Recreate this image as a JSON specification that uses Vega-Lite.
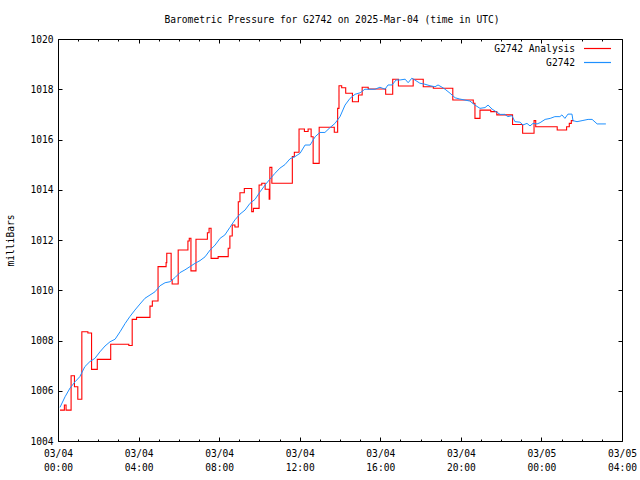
{
  "$schema": "https://vega.github.io/schema/vega-lite/v6.json",
  "width": 564,
  "height": 402,
  "autosize": "none",
  "padding": {"left": 58, "top": 39, "right": 18, "bottom": 39},
  "background": "white",
  "config": {
    "view": {"stroke": "black", "strokeWidth": 1},
    "font": "DejaVu Sans Mono",
    "axis": {"grid": false, "domain": false, "tickColor": "black", "labelColor": "black", "labelFont": "DejaVu Sans Mono", "labelFontSize": 9.6, "titleFont": "DejaVu Sans Mono", "titleFontSize": 9.6, "titleFontWeight": "normal", "titleColor": "black", "labelFlush": false, "labelOverlap": false}
  },
  "title": {"text": "Barometric Pressure for G2742 on 2025-Mar-04 (time in UTC)", "font": "DejaVu Sans Mono", "fontSize": 9.6, "fontWeight": "normal", "color": "black", "anchor": "middle", "offset": 9, "dx": -8},
  "data": {"values": [
    {"s": "G2742 Analysis", "t": "2025-03-04T00:06:00Z", "p": 1005.23},
    {"s": "G2742 Analysis", "t": "2025-03-04T00:19:00Z", "p": 1005.43},
    {"s": "G2742 Analysis", "t": "2025-03-04T00:24:00Z", "p": 1005.23},
    {"s": "G2742 Analysis", "t": "2025-03-04T00:39:00Z", "p": 1006.6},
    {"s": "G2742 Analysis", "t": "2025-03-04T00:49:00Z", "p": 1006.16},
    {"s": "G2742 Analysis", "t": "2025-03-04T00:59:00Z", "p": 1005.66},
    {"s": "G2742 Analysis", "t": "2025-03-04T01:11:00Z", "p": 1008.35},
    {"s": "G2742 Analysis", "t": "2025-03-04T01:29:00Z", "p": 1008.3},
    {"s": "G2742 Analysis", "t": "2025-03-04T01:40:00Z", "p": 1006.85},
    {"s": "G2742 Analysis", "t": "2025-03-04T01:57:00Z", "p": 1007.25},
    {"s": "G2742 Analysis", "t": "2025-03-04T02:37:00Z", "p": 1007.85},
    {"s": "G2742 Analysis", "t": "2025-03-04T03:31:00Z", "p": 1007.8},
    {"s": "G2742 Analysis", "t": "2025-03-04T03:41:00Z", "p": 1008.84},
    {"s": "G2742 Analysis", "t": "2025-03-04T03:54:00Z", "p": 1008.92},
    {"s": "G2742 Analysis", "t": "2025-03-04T04:34:00Z", "p": 1009.37},
    {"s": "G2742 Analysis", "t": "2025-03-04T04:41:00Z", "p": 1009.57},
    {"s": "G2742 Analysis", "t": "2025-03-04T04:58:00Z", "p": 1010.94},
    {"s": "G2742 Analysis", "t": "2025-03-04T05:22:00Z", "p": 1011.1},
    {"s": "G2742 Analysis", "t": "2025-03-04T05:24:00Z", "p": 1011.47},
    {"s": "G2742 Analysis", "t": "2025-03-04T05:37:00Z", "p": 1010.41},
    {"s": "G2742 Analysis", "t": "2025-03-04T05:40:00Z", "p": 1010.25},
    {"s": "G2742 Analysis", "t": "2025-03-04T05:58:00Z", "p": 1011.6},
    {"s": "G2742 Analysis", "t": "2025-03-04T06:27:00Z", "p": 1011.96},
    {"s": "G2742 Analysis", "t": "2025-03-04T06:31:00Z", "p": 1012.07},
    {"s": "G2742 Analysis", "t": "2025-03-04T06:36:00Z", "p": 1010.77},
    {"s": "G2742 Analysis", "t": "2025-03-04T06:51:00Z", "p": 1012.03},
    {"s": "G2742 Analysis", "t": "2025-03-04T07:25:00Z", "p": 1012.29},
    {"s": "G2742 Analysis", "t": "2025-03-04T07:30:00Z", "p": 1012.47},
    {"s": "G2742 Analysis", "t": "2025-03-04T07:36:00Z", "p": 1011.27},
    {"s": "G2742 Analysis", "t": "2025-03-04T07:57:00Z", "p": 1011.34},
    {"s": "G2742 Analysis", "t": "2025-03-04T08:27:00Z", "p": 1011.67},
    {"s": "G2742 Analysis", "t": "2025-03-04T08:32:00Z", "p": 1012.16},
    {"s": "G2742 Analysis", "t": "2025-03-04T08:39:00Z", "p": 1012.6},
    {"s": "G2742 Analysis", "t": "2025-03-04T08:47:00Z", "p": 1012.52},
    {"s": "G2742 Analysis", "t": "2025-03-04T08:57:00Z", "p": 1013.52},
    {"s": "G2742 Analysis", "t": "2025-03-04T09:02:00Z", "p": 1013.88},
    {"s": "G2742 Analysis", "t": "2025-03-04T09:15:00Z", "p": 1014.05},
    {"s": "G2742 Analysis", "t": "2025-03-04T09:37:00Z", "p": 1013.13},
    {"s": "G2742 Analysis", "t": "2025-03-04T09:42:00Z", "p": 1013.26},
    {"s": "G2742 Analysis", "t": "2025-03-04T09:59:00Z", "p": 1014.19},
    {"s": "G2742 Analysis", "t": "2025-03-04T10:07:00Z", "p": 1014.26},
    {"s": "G2742 Analysis", "t": "2025-03-04T10:17:00Z", "p": 1014.02},
    {"s": "G2742 Analysis", "t": "2025-03-04T10:29:00Z", "p": 1013.62},
    {"s": "G2742 Analysis", "t": "2025-03-04T10:31:00Z", "p": 1014.89},
    {"s": "G2742 Analysis", "t": "2025-03-04T10:37:00Z", "p": 1014.26},
    {"s": "G2742 Analysis", "t": "2025-03-04T11:38:00Z", "p": 1015.32},
    {"s": "G2742 Analysis", "t": "2025-03-04T11:44:00Z", "p": 1015.49},
    {"s": "G2742 Analysis", "t": "2025-03-04T11:58:00Z", "p": 1016.42},
    {"s": "G2742 Analysis", "t": "2025-03-04T12:14:00Z", "p": 1016.32},
    {"s": "G2742 Analysis", "t": "2025-03-04T12:25:00Z", "p": 1016.42},
    {"s": "G2742 Analysis", "t": "2025-03-04T12:34:00Z", "p": 1016.11},
    {"s": "G2742 Analysis", "t": "2025-03-04T12:40:00Z", "p": 1015.05},
    {"s": "G2742 Analysis", "t": "2025-03-04T12:58:00Z", "p": 1016.49},
    {"s": "G2742 Analysis", "t": "2025-03-04T13:43:00Z", "p": 1016.29},
    {"s": "G2742 Analysis", "t": "2025-03-04T13:53:00Z", "p": 1017.24},
    {"s": "G2742 Analysis", "t": "2025-03-04T13:57:00Z", "p": 1018.14},
    {"s": "G2742 Analysis", "t": "2025-03-04T14:05:00Z", "p": 1018.06},
    {"s": "G2742 Analysis", "t": "2025-03-04T14:17:00Z", "p": 1017.84},
    {"s": "G2742 Analysis", "t": "2025-03-04T14:37:00Z", "p": 1017.5},
    {"s": "G2742 Analysis", "t": "2025-03-04T14:55:00Z", "p": 1017.77},
    {"s": "G2742 Analysis", "t": "2025-03-04T15:06:00Z", "p": 1018.08},
    {"s": "G2742 Analysis", "t": "2025-03-04T15:24:00Z", "p": 1018.01},
    {"s": "G2742 Analysis", "t": "2025-03-04T16:16:00Z", "p": 1017.8},
    {"s": "G2742 Analysis", "t": "2025-03-04T16:37:00Z", "p": 1018.4},
    {"s": "G2742 Analysis", "t": "2025-03-04T16:54:00Z", "p": 1018.13},
    {"s": "G2742 Analysis", "t": "2025-03-04T17:38:00Z", "p": 1018.4},
    {"s": "G2742 Analysis", "t": "2025-03-04T18:08:00Z", "p": 1018.1},
    {"s": "G2742 Analysis", "t": "2025-03-04T18:38:00Z", "p": 1018.04},
    {"s": "G2742 Analysis", "t": "2025-03-04T19:36:00Z", "p": 1017.57},
    {"s": "G2742 Analysis", "t": "2025-03-04T20:37:00Z", "p": 1017.44},
    {"s": "G2742 Analysis", "t": "2025-03-04T20:42:00Z", "p": 1016.84},
    {"s": "G2742 Analysis", "t": "2025-03-04T20:57:00Z", "p": 1017.17},
    {"s": "G2742 Analysis", "t": "2025-03-04T21:29:00Z", "p": 1017.11},
    {"s": "G2742 Analysis", "t": "2025-03-04T21:47:00Z", "p": 1016.98},
    {"s": "G2742 Analysis", "t": "2025-03-04T22:34:00Z", "p": 1016.6},
    {"s": "G2742 Analysis", "t": "2025-03-04T23:04:00Z", "p": 1016.25},
    {"s": "G2742 Analysis", "t": "2025-03-04T23:38:00Z", "p": 1016.75},
    {"s": "G2742 Analysis", "t": "2025-03-04T23:43:00Z", "p": 1016.51},
    {"s": "G2742 Analysis", "t": "2025-03-05T00:47:00Z", "p": 1016.38},
    {"s": "G2742 Analysis", "t": "2025-03-05T01:15:00Z", "p": 1016.51},
    {"s": "G2742 Analysis", "t": "2025-03-05T01:23:00Z", "p": 1016.64},
    {"s": "G2742 Analysis", "t": "2025-03-05T01:29:00Z", "p": 1016.75},
    {"s": "G2742 Analysis", "t": "2025-03-05T01:34:00Z", "p": 1016.78},
    {"s": "G2742", "t": "2025-03-04T00:06:00Z", "p": 1005.34},
    {"s": "G2742", "t": "2025-03-04T00:21:00Z", "p": 1005.76},
    {"s": "G2742", "t": "2025-03-04T00:36:00Z", "p": 1006.11},
    {"s": "G2742", "t": "2025-03-04T00:51:00Z", "p": 1006.36},
    {"s": "G2742", "t": "2025-03-04T01:05:00Z", "p": 1006.56},
    {"s": "G2742", "t": "2025-03-04T01:20:00Z", "p": 1006.96},
    {"s": "G2742", "t": "2025-03-04T01:35:00Z", "p": 1007.16},
    {"s": "G2742", "t": "2025-03-04T01:50:00Z", "p": 1007.29},
    {"s": "G2742", "t": "2025-03-04T02:05:00Z", "p": 1007.55},
    {"s": "G2742", "t": "2025-03-04T02:20:00Z", "p": 1007.78},
    {"s": "G2742", "t": "2025-03-04T02:35:00Z", "p": 1007.95},
    {"s": "G2742", "t": "2025-03-04T02:50:00Z", "p": 1008.05},
    {"s": "G2742", "t": "2025-03-04T03:05:00Z", "p": 1008.35},
    {"s": "G2742", "t": "2025-03-04T03:20:00Z", "p": 1008.68},
    {"s": "G2742", "t": "2025-03-04T03:34:00Z", "p": 1008.95},
    {"s": "G2742", "t": "2025-03-04T03:49:00Z", "p": 1009.21},
    {"s": "G2742", "t": "2025-03-04T04:04:00Z", "p": 1009.45},
    {"s": "G2742", "t": "2025-03-04T04:19:00Z", "p": 1009.68},
    {"s": "G2742", "t": "2025-03-04T04:34:00Z", "p": 1009.81},
    {"s": "G2742", "t": "2025-03-04T04:49:00Z", "p": 1009.94},
    {"s": "G2742", "t": "2025-03-04T05:04:00Z", "p": 1010.18},
    {"s": "G2742", "t": "2025-03-04T05:19:00Z", "p": 1010.3},
    {"s": "G2742", "t": "2025-03-04T05:34:00Z", "p": 1010.34},
    {"s": "G2742", "t": "2025-03-04T05:49:00Z", "p": 1010.51},
    {"s": "G2742", "t": "2025-03-04T06:03:00Z", "p": 1010.7},
    {"s": "G2742", "t": "2025-03-04T06:18:00Z", "p": 1010.81},
    {"s": "G2742", "t": "2025-03-04T06:33:00Z", "p": 1010.94},
    {"s": "G2742", "t": "2025-03-04T06:48:00Z", "p": 1011.07},
    {"s": "G2742", "t": "2025-03-04T07:03:00Z", "p": 1011.18},
    {"s": "G2742", "t": "2025-03-04T07:18:00Z", "p": 1011.33},
    {"s": "G2742", "t": "2025-03-04T07:33:00Z", "p": 1011.6},
    {"s": "G2742", "t": "2025-03-04T07:48:00Z", "p": 1011.8},
    {"s": "G2742", "t": "2025-03-04T08:03:00Z", "p": 1012.07},
    {"s": "G2742", "t": "2025-03-04T08:17:00Z", "p": 1012.2},
    {"s": "G2742", "t": "2025-03-04T08:32:00Z", "p": 1012.5},
    {"s": "G2742", "t": "2025-03-04T08:47:00Z", "p": 1012.8},
    {"s": "G2742", "t": "2025-03-04T09:02:00Z", "p": 1013.03},
    {"s": "G2742", "t": "2025-03-04T09:17:00Z", "p": 1013.19},
    {"s": "G2742", "t": "2025-03-04T09:32:00Z", "p": 1013.46},
    {"s": "G2742", "t": "2025-03-04T09:47:00Z", "p": 1013.62},
    {"s": "G2742", "t": "2025-03-04T10:02:00Z", "p": 1013.92},
    {"s": "G2742", "t": "2025-03-04T10:17:00Z", "p": 1014.19},
    {"s": "G2742", "t": "2025-03-04T10:31:00Z", "p": 1014.42},
    {"s": "G2742", "t": "2025-03-04T10:46:00Z", "p": 1014.65},
    {"s": "G2742", "t": "2025-03-04T11:01:00Z", "p": 1014.86},
    {"s": "G2742", "t": "2025-03-04T11:16:00Z", "p": 1015.0},
    {"s": "G2742", "t": "2025-03-04T11:31:00Z", "p": 1015.23},
    {"s": "G2742", "t": "2025-03-04T11:46:00Z", "p": 1015.32},
    {"s": "G2742", "t": "2025-03-04T12:01:00Z", "p": 1015.45},
    {"s": "G2742", "t": "2025-03-04T12:16:00Z", "p": 1015.78},
    {"s": "G2742", "t": "2025-03-04T12:31:00Z", "p": 1015.78},
    {"s": "G2742", "t": "2025-03-04T12:46:00Z", "p": 1016.11},
    {"s": "G2742", "t": "2025-03-04T13:00:00Z", "p": 1016.28},
    {"s": "G2742", "t": "2025-03-04T13:15:00Z", "p": 1016.28},
    {"s": "G2742", "t": "2025-03-04T13:30:00Z", "p": 1016.47},
    {"s": "G2742", "t": "2025-03-04T13:45:00Z", "p": 1016.64},
    {"s": "G2742", "t": "2025-03-04T14:00:00Z", "p": 1016.91},
    {"s": "G2742", "t": "2025-03-04T14:15:00Z", "p": 1017.37},
    {"s": "G2742", "t": "2025-03-04T14:30:00Z", "p": 1017.64},
    {"s": "G2742", "t": "2025-03-04T14:45:00Z", "p": 1017.8},
    {"s": "G2742", "t": "2025-03-04T15:00:00Z", "p": 1017.86},
    {"s": "G2742", "t": "2025-03-04T15:14:00Z", "p": 1018.0},
    {"s": "G2742", "t": "2025-03-04T15:29:00Z", "p": 1018.0},
    {"s": "G2742", "t": "2025-03-04T15:44:00Z", "p": 1018.0},
    {"s": "G2742", "t": "2025-03-04T15:59:00Z", "p": 1018.08},
    {"s": "G2742", "t": "2025-03-04T16:14:00Z", "p": 1018.0},
    {"s": "G2742", "t": "2025-03-04T16:23:00Z", "p": 1018.17},
    {"s": "G2742", "t": "2025-03-04T16:35:00Z", "p": 1018.17},
    {"s": "G2742", "t": "2025-03-04T16:47:00Z", "p": 1018.37},
    {"s": "G2742", "t": "2025-03-04T16:59:00Z", "p": 1018.37},
    {"s": "G2742", "t": "2025-03-04T17:14:00Z", "p": 1018.4},
    {"s": "G2742", "t": "2025-03-04T17:23:00Z", "p": 1018.26},
    {"s": "G2742", "t": "2025-03-04T17:34:00Z", "p": 1018.44},
    {"s": "G2742", "t": "2025-03-04T17:43:00Z", "p": 1018.37},
    {"s": "G2742", "t": "2025-03-04T17:58:00Z", "p": 1018.24},
    {"s": "G2742", "t": "2025-03-04T18:13:00Z", "p": 1018.2},
    {"s": "G2742", "t": "2025-03-04T18:28:00Z", "p": 1018.14},
    {"s": "G2742", "t": "2025-03-04T18:43:00Z", "p": 1018.1},
    {"s": "G2742", "t": "2025-03-04T18:52:00Z", "p": 1018.17},
    {"s": "G2742", "t": "2025-03-04T19:04:00Z", "p": 1018.08},
    {"s": "G2742", "t": "2025-03-04T19:13:00Z", "p": 1018.0},
    {"s": "G2742", "t": "2025-03-04T19:28:00Z", "p": 1017.84},
    {"s": "G2742", "t": "2025-03-04T19:43:00Z", "p": 1017.66},
    {"s": "G2742", "t": "2025-03-04T19:57:00Z", "p": 1017.61},
    {"s": "G2742", "t": "2025-03-04T20:12:00Z", "p": 1017.57},
    {"s": "G2742", "t": "2025-03-04T20:27:00Z", "p": 1017.53},
    {"s": "G2742", "t": "2025-03-04T20:42:00Z", "p": 1017.37},
    {"s": "G2742", "t": "2025-03-04T20:57:00Z", "p": 1017.24},
    {"s": "G2742", "t": "2025-03-04T21:12:00Z", "p": 1017.27},
    {"s": "G2742", "t": "2025-03-04T21:21:00Z", "p": 1017.37},
    {"s": "G2742", "t": "2025-03-04T21:33:00Z", "p": 1017.21},
    {"s": "G2742", "t": "2025-03-04T21:42:00Z", "p": 1017.13},
    {"s": "G2742", "t": "2025-03-04T21:57:00Z", "p": 1017.0},
    {"s": "G2742", "t": "2025-03-04T22:11:00Z", "p": 1017.0},
    {"s": "G2742", "t": "2025-03-04T22:20:00Z", "p": 1016.91},
    {"s": "G2742", "t": "2025-03-04T22:32:00Z", "p": 1016.95},
    {"s": "G2742", "t": "2025-03-04T22:41:00Z", "p": 1016.71},
    {"s": "G2742", "t": "2025-03-04T22:56:00Z", "p": 1016.69},
    {"s": "G2742", "t": "2025-03-04T23:05:00Z", "p": 1016.58},
    {"s": "G2742", "t": "2025-03-04T23:17:00Z", "p": 1016.64},
    {"s": "G2742", "t": "2025-03-04T23:26:00Z", "p": 1016.54},
    {"s": "G2742", "t": "2025-03-04T23:35:00Z", "p": 1016.64},
    {"s": "G2742", "t": "2025-03-04T23:47:00Z", "p": 1016.62},
    {"s": "G2742", "t": "2025-03-04T23:56:00Z", "p": 1016.67},
    {"s": "G2742", "t": "2025-03-05T00:11:00Z", "p": 1016.8},
    {"s": "G2742", "t": "2025-03-05T00:26:00Z", "p": 1016.84},
    {"s": "G2742", "t": "2025-03-05T00:40:00Z", "p": 1016.91},
    {"s": "G2742", "t": "2025-03-05T00:55:00Z", "p": 1016.91},
    {"s": "G2742", "t": "2025-03-05T01:01:00Z", "p": 1016.98},
    {"s": "G2742", "t": "2025-03-05T01:10:00Z", "p": 1016.84},
    {"s": "G2742", "t": "2025-03-05T01:19:00Z", "p": 1017.01},
    {"s": "G2742", "t": "2025-03-05T01:31:00Z", "p": 1017.01},
    {"s": "G2742", "t": "2025-03-05T01:34:00Z", "p": 1016.75},
    {"s": "G2742", "t": "2025-03-05T01:46:00Z", "p": 1016.71},
    {"s": "G2742", "t": "2025-03-05T02:01:00Z", "p": 1016.75},
    {"s": "G2742", "t": "2025-03-05T02:19:00Z", "p": 1016.8},
    {"s": "G2742", "t": "2025-03-05T02:31:00Z", "p": 1016.8},
    {"s": "G2742", "t": "2025-03-05T02:46:00Z", "p": 1016.62},
    {"s": "G2742", "t": "2025-03-05T03:12:00Z", "p": 1016.62}
  ]},
  "resolve": {"axis": {"x": "independent", "y": "independent"}},
  "layer": [
    {
      "transform": [{"filter": "datum.s === 'G2742 Analysis'"}],
      "mark": {"type": "line", "interpolate": "step-after", "strokeWidth": 1.1},
      "encoding": {
        "x": {"field": "t", "type": "temporal",
          "scale": {"type": "utc", "domain": [{"year": 2025, "month": 3, "date": 4, "hours": 0, "utc": true}, {"year": 2025, "month": 3, "date": 5, "hours": 4, "utc": true}]},
          "axis": {"orient": "bottom", "title": null, "tickSize": -4, "labelPadding": 11.5, "labelLineHeight": 14,
            "values": [
              {"year": 2025, "month": 3, "date": 4, "hours": 0, "utc": true},
              {"year": 2025, "month": 3, "date": 4, "hours": 4, "utc": true},
              {"year": 2025, "month": 3, "date": 4, "hours": 8, "utc": true},
              {"year": 2025, "month": 3, "date": 4, "hours": 12, "utc": true},
              {"year": 2025, "month": 3, "date": 4, "hours": 16, "utc": true},
              {"year": 2025, "month": 3, "date": 4, "hours": 20, "utc": true},
              {"year": 2025, "month": 3, "date": 5, "hours": 0, "utc": true},
              {"year": 2025, "month": 3, "date": 5, "hours": 4, "utc": true}],
            "labelExpr": "[utcFormat(datum.value, '%m/%d'), utcFormat(datum.value, '%H:%M')]"}},
        "y": {"field": "p", "type": "quantitative",
          "scale": {"domain": [1004, 1020], "nice": false, "zero": false},
          "axis": {"orient": "left", "title": "milliBars", "tickSize": -4, "labelPadding": 9, "format": "d",
            "values": [1004, 1006, 1008, 1010, 1012, 1014, 1016, 1018, 1020],
            "titleX": -48, "titleBaseline": "middle"}},
        "color": {"field": "s", "type": "nominal",
          "scale": {"domain": ["G2742 Analysis", "G2742"], "range": ["#ff0000", "#1e90ff"]},
          "legend": {"orient": "none", "legendX": 532, "legendY": 2, "title": null, "symbolType": "M-2,0H2", "symbolSize": 182, "symbolStrokeWidth": 1.2, "labelAlign": "right", "labelOffset": -30, "labelFont": "DejaVu Sans Mono", "labelFontSize": 9.6, "labelColor": "black", "rowPadding": 1, "padding": 0}}
      }
    },
    {
      "transform": [{"filter": "datum.s === 'G2742'"}],
      "mark": {"type": "line", "strokeWidth": 1},
      "encoding": {
        "x": {"field": "t", "type": "temporal",
          "axis": {"orient": "top", "title": null, "tickSize": -4, "labels": false,
            "values": [
              {"year": 2025, "month": 3, "date": 4, "hours": 0, "utc": true},
              {"year": 2025, "month": 3, "date": 4, "hours": 4, "utc": true},
              {"year": 2025, "month": 3, "date": 4, "hours": 8, "utc": true},
              {"year": 2025, "month": 3, "date": 4, "hours": 12, "utc": true},
              {"year": 2025, "month": 3, "date": 4, "hours": 16, "utc": true},
              {"year": 2025, "month": 3, "date": 4, "hours": 20, "utc": true},
              {"year": 2025, "month": 3, "date": 5, "hours": 0, "utc": true},
              {"year": 2025, "month": 3, "date": 5, "hours": 4, "utc": true}]}},
        "y": {"field": "p", "type": "quantitative",
          "axis": {"orient": "right", "title": null, "tickSize": -4, "labels": false,
            "values": [1004, 1006, 1008, 1010, 1012, 1014, 1016, 1018, 1020]}},
        "color": {"field": "s", "type": "nominal"}
      }
    },
    {
      "transform": [{"filter": "datum.s === 'G2742'"}],
      "mark": {"type": "line", "opacity": 0},
      "encoding": {
        "x": {"field": "t", "type": "temporal",
          "axis": {"orient": "bottom", "title": null, "tickSize": -2, "labels": false,
            "values": [
              {"year": 2025, "month": 3, "date": 4, "hours": 1, "utc": true},
              {"year": 2025, "month": 3, "date": 4, "hours": 2, "utc": true},
              {"year": 2025, "month": 3, "date": 4, "hours": 3, "utc": true},
              {"year": 2025, "month": 3, "date": 4, "hours": 5, "utc": true},
              {"year": 2025, "month": 3, "date": 4, "hours": 6, "utc": true},
              {"year": 2025, "month": 3, "date": 4, "hours": 7, "utc": true},
              {"year": 2025, "month": 3, "date": 4, "hours": 9, "utc": true},
              {"year": 2025, "month": 3, "date": 4, "hours": 10, "utc": true},
              {"year": 2025, "month": 3, "date": 4, "hours": 11, "utc": true},
              {"year": 2025, "month": 3, "date": 4, "hours": 13, "utc": true},
              {"year": 2025, "month": 3, "date": 4, "hours": 14, "utc": true},
              {"year": 2025, "month": 3, "date": 4, "hours": 15, "utc": true},
              {"year": 2025, "month": 3, "date": 4, "hours": 17, "utc": true},
              {"year": 2025, "month": 3, "date": 4, "hours": 18, "utc": true},
              {"year": 2025, "month": 3, "date": 4, "hours": 19, "utc": true},
              {"year": 2025, "month": 3, "date": 4, "hours": 21, "utc": true},
              {"year": 2025, "month": 3, "date": 4, "hours": 22, "utc": true},
              {"year": 2025, "month": 3, "date": 4, "hours": 23, "utc": true},
              {"year": 2025, "month": 3, "date": 5, "hours": 1, "utc": true},
              {"year": 2025, "month": 3, "date": 5, "hours": 2, "utc": true},
              {"year": 2025, "month": 3, "date": 5, "hours": 3, "utc": true}]}},
        "y": {"field": "p", "type": "quantitative", "axis": null}
      }
    },
    {
      "transform": [{"filter": "datum.s === 'G2742'"}],
      "mark": {"type": "line", "opacity": 0},
      "encoding": {
        "x": {"field": "t", "type": "temporal",
          "axis": {"orient": "top", "title": null, "tickSize": -2, "labels": false,
            "values": [
              {"year": 2025, "month": 3, "date": 4, "hours": 1, "utc": true},
              {"year": 2025, "month": 3, "date": 4, "hours": 2, "utc": true},
              {"year": 2025, "month": 3, "date": 4, "hours": 3, "utc": true},
              {"year": 2025, "month": 3, "date": 4, "hours": 5, "utc": true},
              {"year": 2025, "month": 3, "date": 4, "hours": 6, "utc": true},
              {"year": 2025, "month": 3, "date": 4, "hours": 7, "utc": true},
              {"year": 2025, "month": 3, "date": 4, "hours": 9, "utc": true},
              {"year": 2025, "month": 3, "date": 4, "hours": 10, "utc": true},
              {"year": 2025, "month": 3, "date": 4, "hours": 11, "utc": true},
              {"year": 2025, "month": 3, "date": 4, "hours": 13, "utc": true},
              {"year": 2025, "month": 3, "date": 4, "hours": 14, "utc": true},
              {"year": 2025, "month": 3, "date": 4, "hours": 15, "utc": true},
              {"year": 2025, "month": 3, "date": 4, "hours": 17, "utc": true},
              {"year": 2025, "month": 3, "date": 4, "hours": 18, "utc": true},
              {"year": 2025, "month": 3, "date": 4, "hours": 19, "utc": true},
              {"year": 2025, "month": 3, "date": 4, "hours": 21, "utc": true},
              {"year": 2025, "month": 3, "date": 4, "hours": 22, "utc": true},
              {"year": 2025, "month": 3, "date": 4, "hours": 23, "utc": true},
              {"year": 2025, "month": 3, "date": 5, "hours": 1, "utc": true},
              {"year": 2025, "month": 3, "date": 5, "hours": 2, "utc": true},
              {"year": 2025, "month": 3, "date": 5, "hours": 3, "utc": true}]}},
        "y": {"field": "p", "type": "quantitative", "axis": null}
      }
    }
  ]
}
